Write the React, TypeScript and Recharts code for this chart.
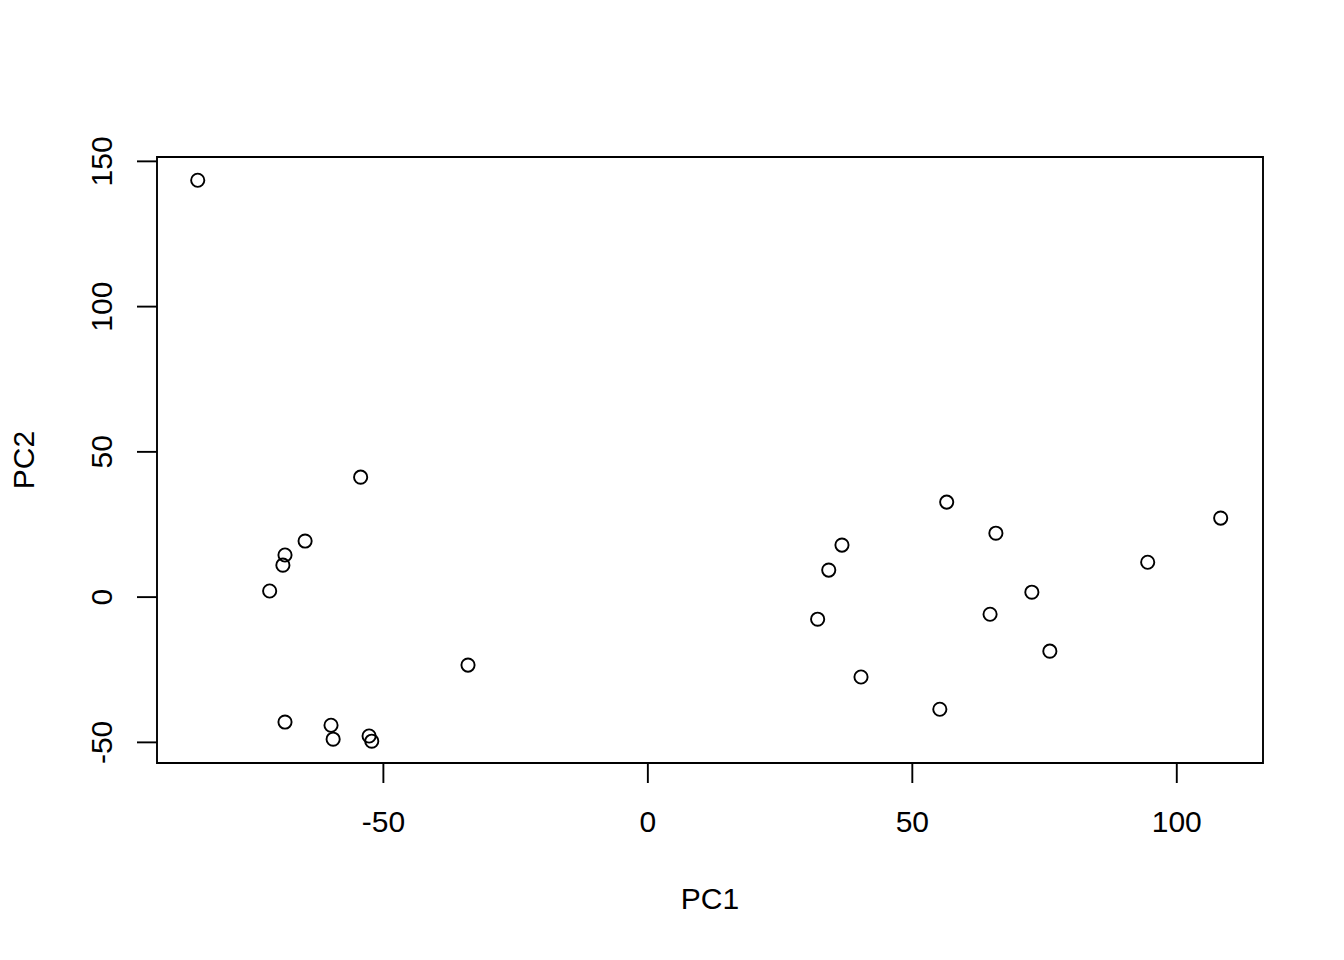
import { ScatterChart, Scatter, XAxis, YAxis, ReferenceArea, Label } from 'recharts';

// PCA scores, PC1 vs PC2
const pc1 = [
  -85.1, -54.3, -64.8, -68.6, -69.0, -71.5, -34.0, -68.6, -59.9, -59.5, -52.7, -52.2,
  32.1, 34.2, 36.7, 40.3, 55.2, 56.5, 64.7, 65.8, 72.6, 76.0, 94.5, 108.3,
];
const pc2 = [
  143.5, 41.3, 19.3, 14.5, 11.0, 2.1, -23.4, -43.0, -44.1, -48.9, -47.8, -49.6,
  -7.6, 9.3, 17.9, -27.5, -38.6, 32.7, -5.9, 22.0, 1.7, -18.6, 12.0, 27.2,
];
const xTicks = [-50, 0, 50, 100];
const yTicks = [-50, 0, 50, 100, 150];
const xDomain = [-92.8, 116.3];
const yDomain = [-57.1, 151.5];

const points = pc1.map((x, i) => ({ x, y: pc2[i] }));

const FONT = '"Liberation Sans", Arial, Helvetica, sans-serif';

const XTick = (props: any) => (
  <text x={props.x} y={props.y + 49} textAnchor="middle" fontFamily={FONT} fontSize={30} fill="#000">
    {props.payload.value}
  </text>
);

const YTick = (props: any) => (
  <text
    x={props.x - 25}
    y={props.y}
    textAnchor="middle"
    transform={`rotate(-90 ${props.x - 25} ${props.y})`}
    fontFamily={FONT}
    fontSize={30}
    fill="#000"
  >
    {props.payload.value}
  </text>
);

const OpenCircle = (props: any) => (
  <circle cx={props.cx} cy={props.cy} r={6.6} fill="none" stroke="#000" strokeWidth={1.9} />
);

export default function App() {
  return (
    <div style={{ position: 'absolute', left: 0, top: 0, background: '#fff' }}>
      <ScatterChart width={1344} height={960} margin={{ top: 157, right: 81, bottom: 0, left: 0 }}>
        <XAxis
          type="number"
          dataKey="x"
          domain={xDomain}
          ticks={xTicks}
          allowDataOverflow
          height={197}
          axisLine={false}
          tickSize={20}
          tickMargin={0}
          tickLine={{ stroke: '#000', strokeWidth: 1.9 }}
          tick={XTick}
        >
          <Label
            content={() => (
              <text x={710} y={909} textAnchor="middle" fontFamily={FONT} fontSize={30} fill="#000">
                PC1
              </text>
            )}
          />
        </XAxis>
        <YAxis
          type="number"
          dataKey="y"
          domain={yDomain}
          ticks={yTicks}
          allowDataOverflow
          width={157}
          axisLine={false}
          tickSize={20}
          tickMargin={0}
          tickLine={{ stroke: '#000', strokeWidth: 1.9 }}
          tick={YTick}
        >
          <Label
            content={() => (
              <text x={34} y={460} textAnchor="middle" transform="rotate(-90 34 460)" fontFamily={FONT} fontSize={30} fill="#000">
                PC2
              </text>
            )}
          />
        </YAxis>
        <ReferenceArea
          x1={xDomain[0]}
          x2={xDomain[1]}
          y1={yDomain[0]}
          y2={yDomain[1]}
          fill="none"
          stroke="#000"
          strokeWidth={1.9}
          fillOpacity={0}
          ifOverflow="visible"
        />
        <Scatter data={points} shape={OpenCircle} isAnimationActive={false} />
      </ScatterChart>
    </div>
  );
}
